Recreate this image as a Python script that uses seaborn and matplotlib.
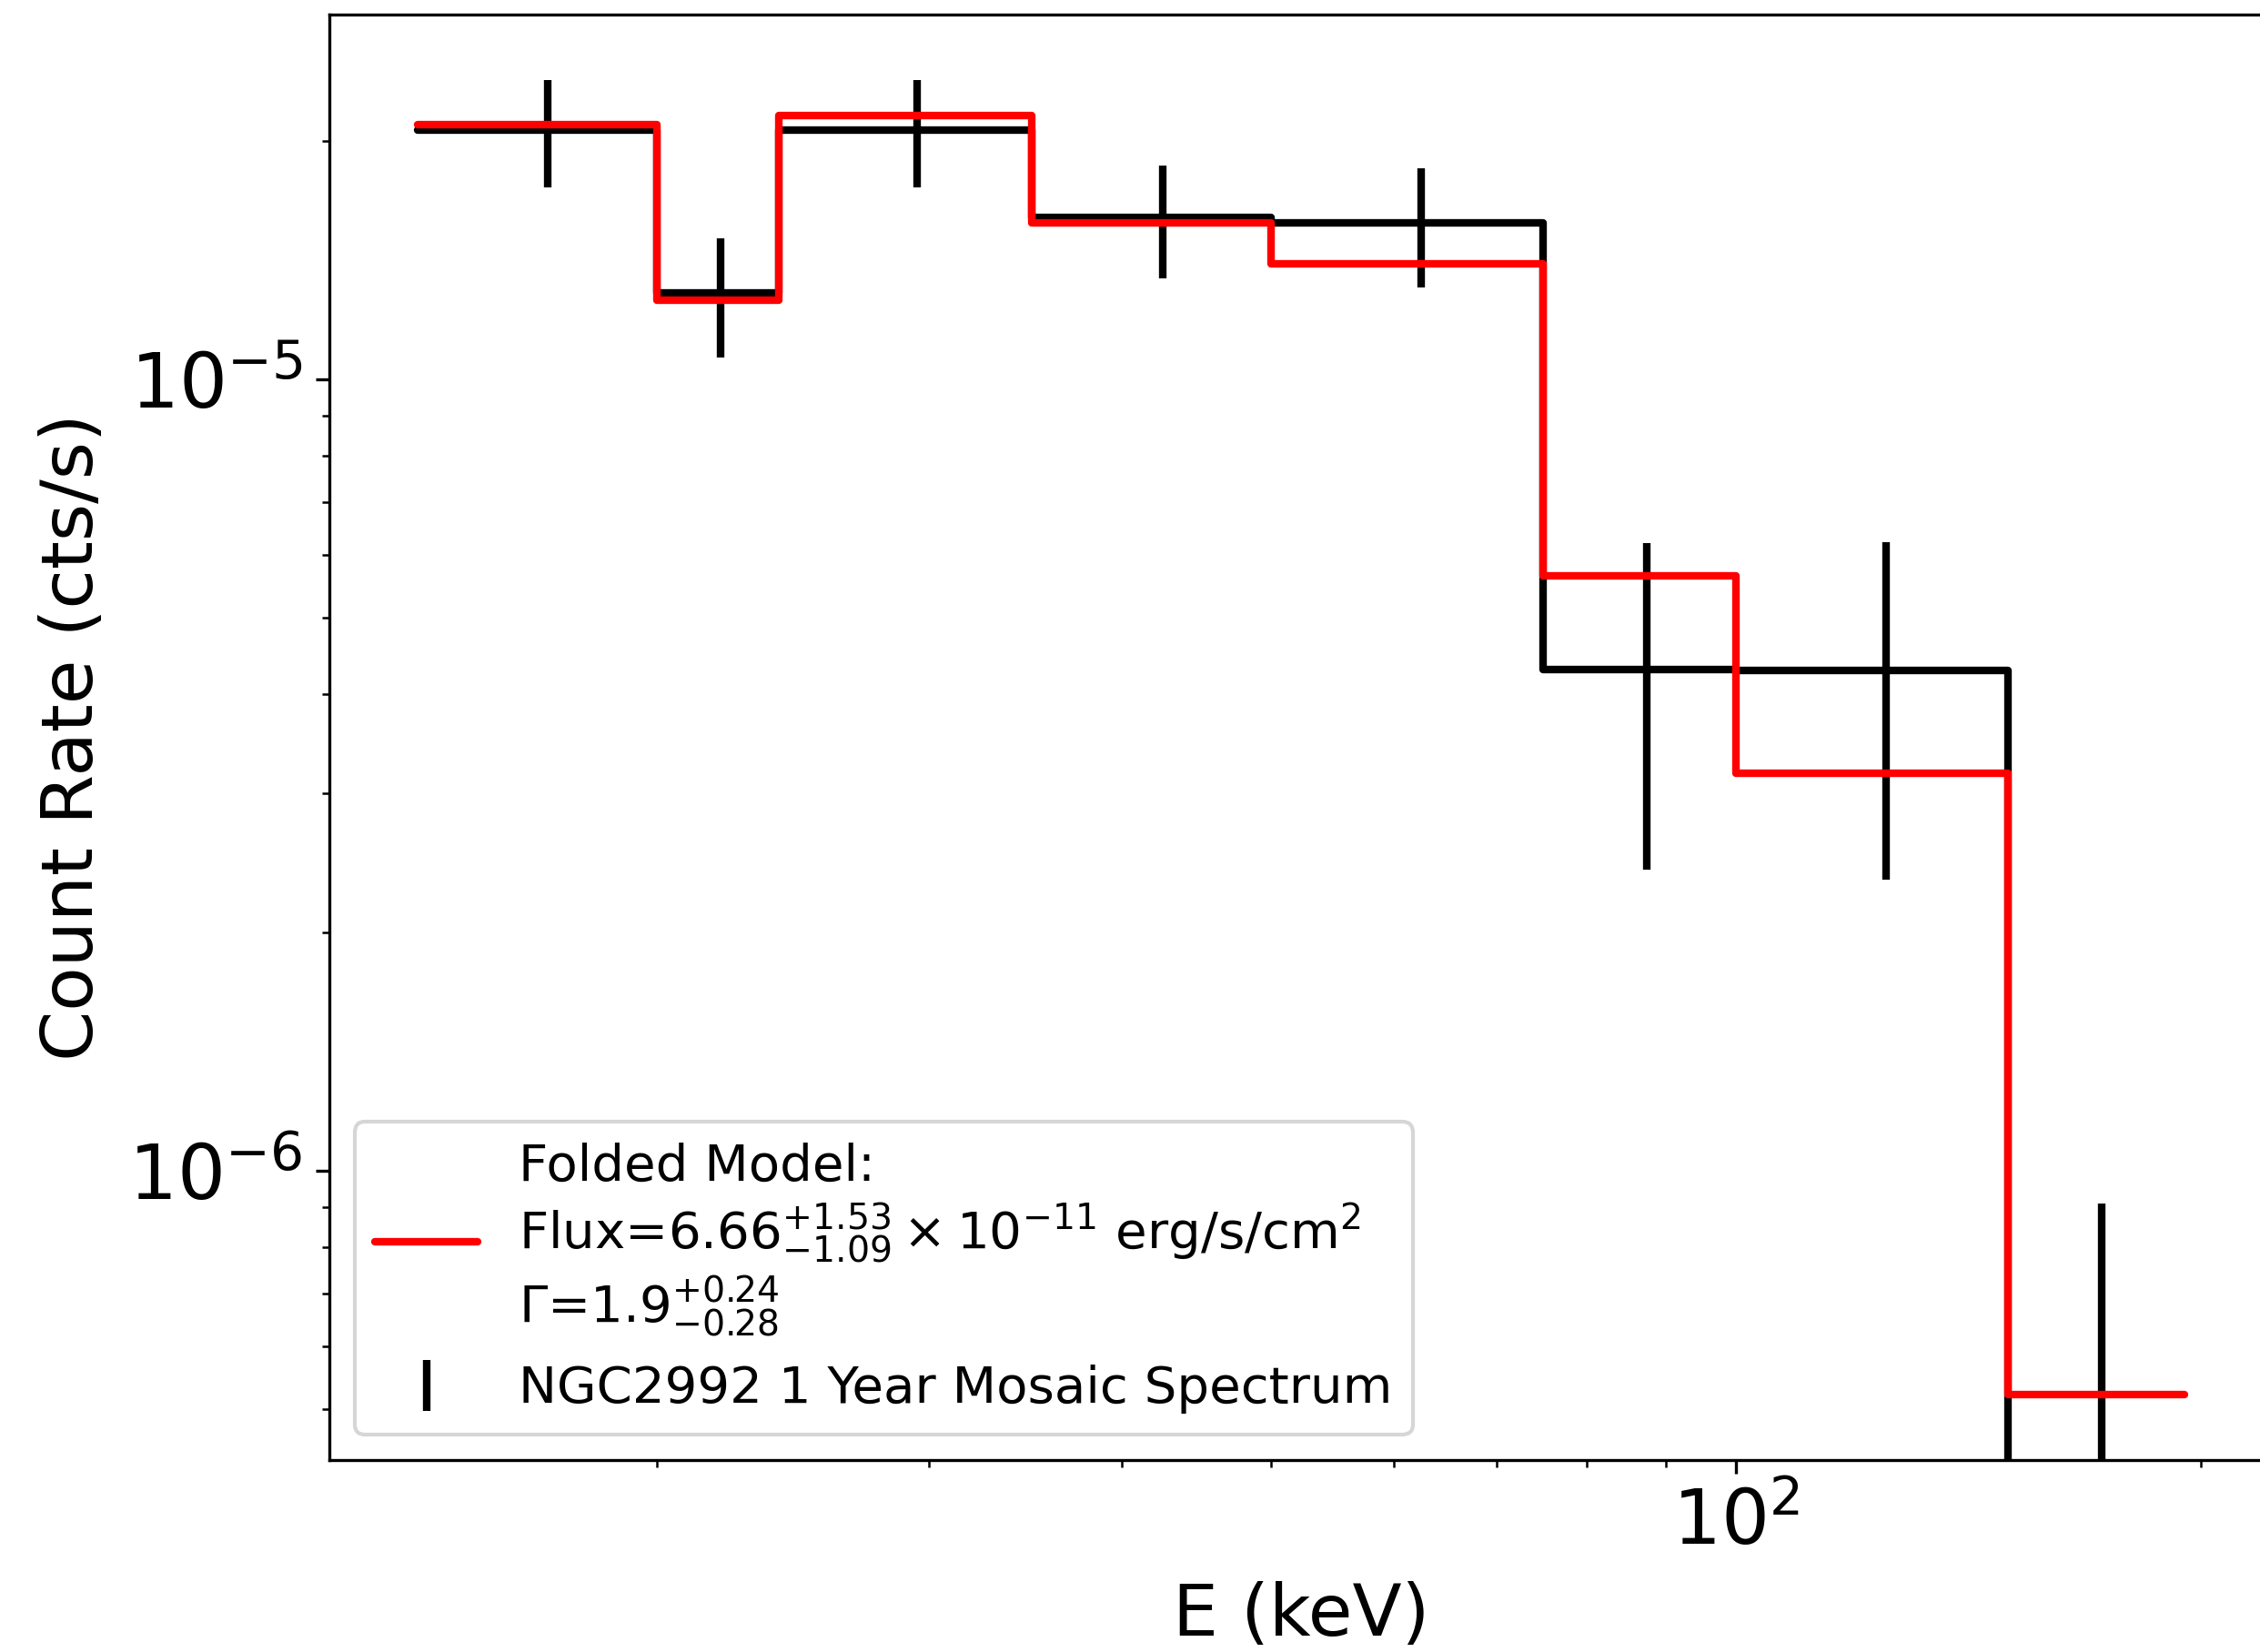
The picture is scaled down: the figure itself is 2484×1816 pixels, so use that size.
import numpy as np
import matplotlib
matplotlib.use("Agg")
import matplotlib.pyplot as plt
import seaborn as sns

# Energy band edges (keV)
edges = [14, 20, 24, 35, 50, 75, 100, 150, 195]
# Bin centres (keV)
centers = [17, 22, 29.5, 42.5, 62.5, 87.5, 125, 172.5]
# Observed count rate (cts/s) and 1-sigma errors
rate = [2.065e-5, 1.285e-5, 2.065e-5, 1.600e-5, 1.574e-5, 4.30e-6, 4.28e-6, -5.0e-8]
rate_err = [3.2e-6, 2.2e-6, 3.2e-6, 2.6e-6, 2.7e-6, 1.9e-6, 1.95e-6, 9.6e-7]
# Folded model count rate (cts/s)
model = [2.094e-5, 1.259e-5, 2.154e-5, 1.574e-5, 1.399e-5, 5.65e-6, 3.18e-6, 5.22e-7]

model_label = ("Folded Model:\n"
               r"Flux=$6.66^{+1.53}_{-1.09}\times10^{-11}$ erg/s/cm$^2$" "\n"
               r"$\Gamma$=1.9$^{+0.24}_{-0.28}$")
data_label = "NGC2992 1 Year Mosaic Spectrum"

sns.set_theme(style="ticks", rc={
    'text.color': 'black', 'axes.labelcolor': 'black',
    'xtick.color': 'black', 'ytick.color': 'black',
    'axes.edgecolor': 'black'})
plt.rcParams['font.family'] = ['DejaVu Sans']
plt.rcParams['mathtext.fontset'] = 'dejavusans'
plt.rcParams['xtick.direction'] = 'out'
plt.rcParams['ytick.direction'] = 'out'

fig = plt.figure(figsize=(2484 / 300, 1816 / 300), dpi=300)
ax = fig.add_axes([0.1456, 0.1162, 1.0056 - 0.1456, 0.9912 - 0.1162])

eb = ax.errorbar(centers, rate, yerr=rate_err, fmt='none', ecolor='black',
                 elinewidth=2, label=data_label, zorder=2)

rate_ext = rate + [rate[-1]]
model_ext = model + [model[-1]]
sns.lineplot(x=edges, y=rate_ext, drawstyle='steps-post', color='black',
             linewidth=2, ax=ax, zorder=3, legend=False, sort=False)
sns.lineplot(x=edges, y=model_ext, drawstyle='steps-post', color='red',
             linewidth=2, ax=ax, zorder=4, legend=False, sort=False)
red_line = ax.lines[-1]

ax.set_xscale('log')
ax.set_yscale('log')

# limits with 5% log-margins from the data
xlo, xhi = np.log10(edges[0]), np.log10(edges[-1])
xm = 0.05 * (xhi - xlo)
ax.set_xlim(10 ** (xlo - xm), 10 ** (xhi + xm))
ymax = np.log10(max(np.array(rate) + np.array(rate_err)))
ymin = np.log10(min(model))
ym = 0.05 * (ymax - ymin)
ax.set_ylim(10 ** (ymin - ym), 10 ** (ymax + ym))

ax.set_xlabel("E (keV)", fontsize=19, labelpad=5.5)
ax.set_ylabel("Count Rate (cts/s)", fontsize=19, labelpad=5.5)
ax.tick_params(axis='both', which='major', labelsize=20, length=3.5, width=0.8,
               color='black', labelcolor='black')
ax.tick_params(axis='both', which='minor', length=2, width=0.6, color='black')
for s in ax.spines.values():
    s.set_color('black')
    s.set_linewidth(0.8)
ax.grid(False)

red_line.set_label(model_label)
leg = ax.legend([red_line, eb], [model_label, data_label], loc='lower left',
                fontsize=13.5, frameon=True, fancybox=True, framealpha=0.8,
                edgecolor='0.8')
for t in leg.get_texts():
    t.set_color('black')

fig.savefig("out.png", dpi=300)
